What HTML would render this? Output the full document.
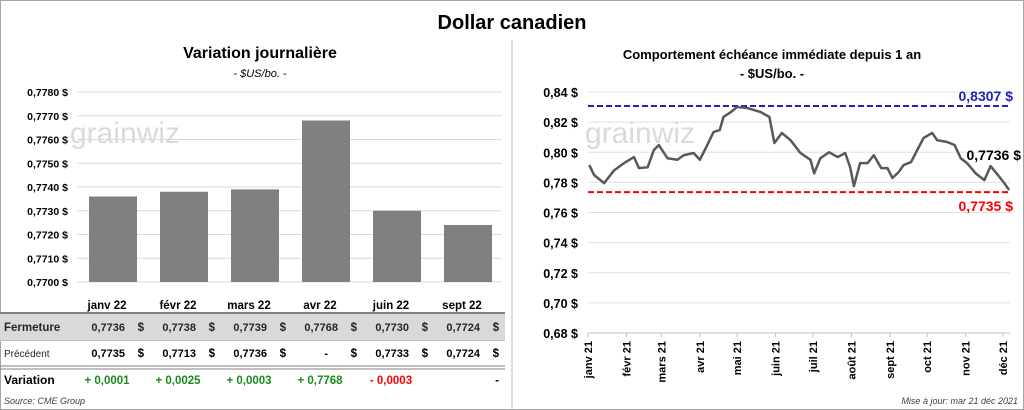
<!DOCTYPE html>
<html><head><meta charset="utf-8"><style>
body{margin:0;width:1024px;height:410px;overflow:hidden;background:#fff;font-family:"Liberation Sans",sans-serif}
svg{display:block}
</style></head><body>
<svg id="s" width="1024" height="410" viewBox="0 0 1024 410" font-family="Liberation Sans, sans-serif">
<rect x="0.5" y="0.5" width="1023" height="409" fill="#fff" stroke="#a6a6a6"/>
<line x1="512" y1="40" x2="512" y2="410" stroke="#bfbfbf"/>
<text x="512" y="29" text-anchor="middle" font-size="20" font-weight="bold" fill="#000">Dollar canadien</text>
<text x="260" y="58" text-anchor="middle" font-size="16" font-weight="bold">Variation  journalière</text>
<text x="260" y="77" text-anchor="middle" font-size="11" font-style="italic">- $US/bo. -</text>
<text x="772" y="59" text-anchor="middle" font-size="13" font-weight="bold">Comportement échéance immédiate depuis 1 an</text>
<text x="772" y="78" text-anchor="middle" font-size="13" font-weight="bold">- $US/bo. -</text>
<text x="70" y="143" font-size="30" fill="#dadada">grainwiz</text>
<text x="585" y="143" font-size="30" fill="#dadada">grainwiz</text>
<g id="left"></g>
<g id="right"></g>
<g id="table"></g>
<text x="4" y="404" font-size="9" font-style="italic" fill="#404040">Source: CME Group</text>
<text x="1018" y="404" text-anchor="end" font-size="9" font-style="italic" fill="#404040">Mise à jour: mar 21 déc 2021</text>
</svg>
<script>
const barCats=["janv 22","févr 22","mars 22","avr 22","juin 22","sept 22"];
const barVals=[0.7736,0.7738,0.7739,0.7768,0.7730,0.7724];
const barTicks=[0.7700,0.7710,0.7720,0.7730,0.7740,0.7750,0.7760,0.7770,0.7780];
const prevVals=["0,7735","0,7713","0,7736","-","0,7733","0,7724"];
const varVals=["+ 0,0001","+ 0,0025","+ 0,0003","+ 0,7768","- 0,0003","-"];
const lineDays=[1,5,13,21,29,37,41,48,53,57,64,72,77,85,90,96,101,106,109,115,120,128,139,146,150,156,163,171,179,182,187,194,201,207,211,214,219,225,230,236,241,245,250,254,260,265,270,277,281,289,295,300,305,312,319,324,330,335,339];
const lineVals=[0.7915,0.7848,0.7795,0.788,0.7928,0.7968,0.7895,0.790,0.8015,0.8048,0.796,0.795,0.798,0.7995,0.795,0.8048,0.8134,0.8147,0.8234,0.8267,0.830,0.8294,0.8267,0.8234,0.8061,0.8128,0.808,0.7995,0.795,0.786,0.796,0.800,0.7968,0.7995,0.790,0.7775,0.7928,0.7928,0.798,0.7895,0.7895,0.7829,0.7868,0.7915,0.7935,0.8015,0.8094,0.8128,0.808,0.8068,0.8048,0.796,0.7928,0.786,0.7815,0.7908,0.7848,0.7795,0.7749];
const lineTicks=[0.68,0.70,0.72,0.74,0.76,0.78,0.80,0.82,0.84];
const monthLabels=["janv 21","févr 21","mars 21","avr 21","mai 21","juin 21","juil 21","août 21","sept 21","oct 21","nov 21","déc 21"];
const monthDays=[0,31,59,90,120,151,181,212,243,273,304,334];
const maxVal=0.8307, minVal=0.7735, lastVal=0.7736;
const NS="http://www.w3.org/2000/svg";
function mk(p,t,a,txt){const e=document.createElementNS(NS,t);for(const k in a)e.setAttribute(k,a[k]);if(txt!==undefined)e.textContent=txt;p.appendChild(e);return e;}
const fmt4=v=>v.toFixed(4).replace('.',',');
const L=document.getElementById('left');
const ly=v=>282-(v-0.7700)/0.0080*190;
const bx=i=>78+i*71+35;
barTicks.forEach(t=>{
 const g=mk(L,'line',{x1:77,x2:502,y1:ly(t),y2:ly(t),stroke:'#d9d9d9'});
 
 
 const tx=mk(L,'text',{x:68,y:ly(t)+4,'text-anchor':'end','font-size':10.5,'font-weight':'bold'},fmt4(t)+' $');
 
 
});
barVals.forEach((v,i)=>{
 const r=mk(L,'rect',{x:bx(i)-24,y:ly(v),width:48,height:282-ly(v),fill:'#808080'});
 
 
});
const T=document.getElementById('table');
mk(T,'line',{x1:0,x2:505,y1:313,y2:313,stroke:'#808080','stroke-width':2});
mk(T,'rect',{x:0,y:314,width:505,height:26,fill:'#d9d9d9'});
mk(T,'line',{x1:0,x2:505,y1:340.5,y2:340.5,stroke:'#bfbfbf'});
mk(T,'line',{x1:0,x2:505,y1:366,y2:366,stroke:'#808080'});
mk(T,'line',{x1:0,x2:505,y1:369,y2:369,stroke:'#808080'});
const h1=mk(T,'text',{x:4,y:331,'font-size':11.5,'font-weight':'bold',fill:'#262626'},'Fermeture');

const h2=mk(T,'text',{x:4,y:357,'font-size':10,fill:'#262626'},'Précédent');

const h3=mk(T,'text',{x:4,y:384,'font-size':12,'font-weight':'bold'},'Variation');

barCats.forEach((c,i)=>{
 const cx=bx(i);
 const t=mk(T,'text',{x:cx-6,y:309,'text-anchor':'middle','font-size':11.5,'font-weight':'bold'},c);
 
 const f=mk(T,'text',{x:cx+12,y:331,'text-anchor':'end','font-size':11,'font-weight':'bold',fill:'#262626'},fmt4(barVals[i]));
 
 mk(T,'text',{x:cx+31,y:331,'text-anchor':'end','font-size':11.5,'font-weight':'bold',fill:'#262626'},'$');
 const p=mk(T,'text',{x:prevVals[i]=='-'?cx+2:cx+12,y:357,'text-anchor':'end','font-size':11,'font-weight':'bold'},prevVals[i]);
 
 mk(T,'text',{x:cx+31,y:357,'text-anchor':'end','font-size':11.5,'font-weight':'bold'},'$');
 const col=varVals[i][0]=='+'?'#1a8c1a':(varVals[i]=='-'?'#000':'#ff0000');
 const v=mk(T,'text',{x:varVals[i]=='-'?cx+31:cx-6,y:384,'text-anchor':varVals[i]=='-'?'end':'middle','font-size':11.5,'font-weight':'bold',fill:col},varVals[i]);
 
});
const R=document.getElementById('right');
const ry=v=>333-(v-0.68)/0.16*241;
const rx=d=>588+d*(415/334);
lineTicks.forEach(t=>{
 const g=mk(R,'line',{x1:588,x2:1010,y1:ry(t),y2:ry(t),stroke:'#e0e0e0'});
 
 const tx=mk(R,'text',{x:578,y:ry(t)+5,'text-anchor':'end','font-size':12.5,'font-weight':'bold'},t.toFixed(2).replace('.',',')+' $');
 
});
mk(R,'line',{x1:588,x2:1010,y1:333,y2:333,stroke:'#bfbfbf'});
monthLabels.forEach((m,i)=>{
 const x=rx(monthDays[i]);
 mk(R,'line',{x1:x,x2:x,y1:333,y2:337,stroke:'#bfbfbf'});
 const t=mk(R,'text',{transform:`translate(${x+4},341) rotate(-90)`,'text-anchor':'end','font-size':11,'font-weight':'bold'},m);
 
});
const hi=mk(R,'line',{x1:588,x2:1010,y1:ry(maxVal),y2:ry(maxVal),stroke:'#2222bb','stroke-width':2,'stroke-dasharray':'6,3'});

const lo=mk(R,'line',{x1:588,x2:1010,y1:ry(minVal),y2:ry(minVal),stroke:'#ff0000','stroke-width':2,'stroke-dasharray':'6,3'});

const pl=mk(R,'polyline',{points:lineDays.map((d,i)=>rx(d)+','+ry(lineVals[i])).join(' '),fill:'none',stroke:'#595959','stroke-width':2.5,'stroke-linejoin':'round'});

const a=mk(R,'text',{x:1013,y:ry(maxVal)-5,'text-anchor':'end','font-size':14,'font-weight':'bold',fill:'#2222bb'},fmt4(maxVal)+' $');

const b=mk(R,'text',{x:1013,y:ry(minVal)+19,'text-anchor':'end','font-size':14,'font-weight':'bold',fill:'#ff0000'},fmt4(minVal)+' $');

const c=mk(R,'text',{x:1021,y:160,'text-anchor':'end','font-size':14,'font-weight':'bold'},fmt4(lastVal)+' $');

</script>
</body></html>
